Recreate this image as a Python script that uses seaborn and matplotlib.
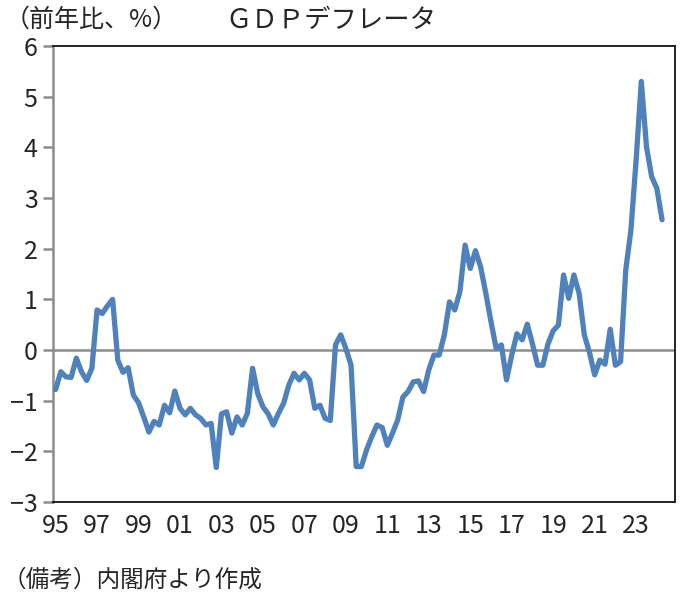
import numpy as np
import pandas as pd
import matplotlib
matplotlib.use('Agg')
import matplotlib.pyplot as plt
import seaborn as sns

# GDP deflator, y/y %, quarterly from 1995Q1
deflator = [
    -0.78, -0.43, -0.53, -0.54,   # 1995
    -0.16, -0.43, -0.60, -0.36,   # 1996
    0.79, 0.72, 0.87, 1.00,       # 1997
    -0.20, -0.44, -0.35, -0.89,   # 1998
    -1.04, -1.32, -1.62, -1.41,   # 1999
    -1.48, -1.09, -1.24, -0.81,   # 2000
    -1.15, -1.28, -1.15, -1.28,   # 2001
    -1.35, -1.48, -1.45, -2.32,   # 2002
    -1.26, -1.22, -1.64, -1.32,   # 2003
    -1.48, -1.25, -0.36, -0.86,   # 2004
    -1.12, -1.26, -1.48, -1.25,   # 2005
    -1.05, -0.69, -0.46, -0.59,   # 2006
    -0.46, -0.59, -1.15, -1.09,   # 2007
    -1.35, -1.39, 0.10, 0.30,     # 2008
    0.03, -0.30, -2.30, -2.30,    # 2009
    -1.97, -1.71, -1.48, -1.53,   # 2010
    -1.88, -1.64, -1.38, -0.93,   # 2011
    -0.82, -0.63, -0.61, -0.82,   # 2012
    -0.39, -0.10, -0.10, 0.30,    # 2013
    0.95, 0.79, 1.15, 2.07,       # 2014
    1.61, 1.96, 1.64, 1.12,       # 2015
    0.56, 0.03, 0.10, -0.59,      # 2016
    -0.10, 0.32, 0.20, 0.51,      # 2017
    0.12, -0.30, -0.30, 0.12,     # 2018
    0.38, 0.49, 1.48, 1.02,       # 2019
    1.48, 1.12, 0.30, -0.05,      # 2020
    -0.49, -0.20, -0.28, 0.41,    # 2021
    -0.30, -0.23, 1.58, 2.37,     # 2022
    3.75, 5.30, 4.01, 3.42,       # 2023
    3.19, 2.57,                   # 2024
]
year_labels = ['95', '97', '99', '01', '03', '05', '07', '09',
               '11', '13', '15', '17', '19', '21', '23']
yticks = [-3, -2, -1, 0, 1, 2, 3, 4, 5, 6]

df = pd.DataFrame({'q': np.arange(len(deflator)), 'val': deflator})

sns.set_style('white')
plt.rcParams['font.family'] = ['Noto Sans CJK JP', 'DejaVu Sans']

fig = plt.figure(figsize=(6.96, 5.98), dpi=100)
ax = fig.add_axes([53/696, 1-502/598, 622/696, 456/598])

ax.axhline(0, color='#8c8c8c', lw=1.8, zorder=1)
sns.lineplot(data=df, x='q', y='val', ax=ax, color='#4f81bd', lw=3.8,
             solid_joinstyle='round', solid_capstyle='round', zorder=3)

ax.set_xlim(-0.5, 119.5)
ax.set_ylim(-3, 6)
ax.set_xticks(np.arange(0, 8*len(year_labels), 8))
ax.set_xticklabels(year_labels)
ax.set_yticks(yticks)
ax.set_yticklabels([str(t).replace('-', '−') for t in yticks])
ax.set_xlabel('')
ax.set_ylabel('')

for s in ['top', 'right', 'bottom']:
    ax.spines[s].set_color('#222222')
    ax.spines[s].set_linewidth(1.4)
ax.spines['left'].set_color('#8c8c8c')
ax.spines['left'].set_linewidth(1.8)
ax.tick_params(axis='y', direction='out', length=7, width=1.8, color='#8c8c8c',
               labelsize=18, pad=4, left=True)
ax.tick_params(axis='x', length=0, labelsize=18, pad=8)

fig.text(5/696, 1-20/598, '（前年比、%）', fontsize=18, va='center', ha='left')
fig.text(225/696, 1-20/598, 'ＧＤＰデフレータ', fontsize=19, va='center', ha='left')
fig.text(3/696, 1-580/598, '（備考）内閣府より作成', fontsize=17, va='center', ha='left')

fig.savefig('out.png', dpi=100)
